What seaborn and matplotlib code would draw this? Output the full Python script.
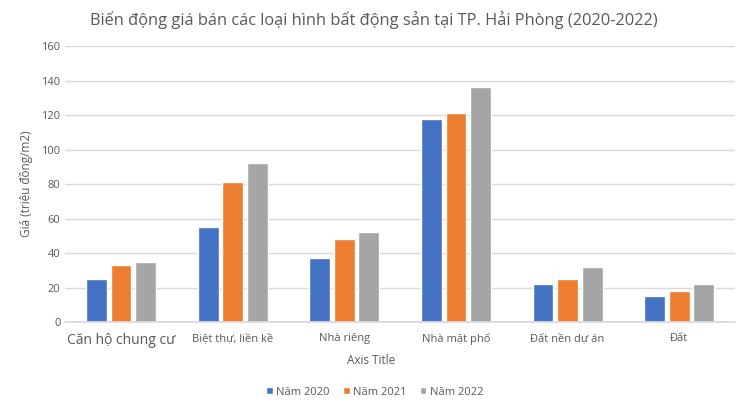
import pandas as pd
import matplotlib.pyplot as plt
import seaborn as sns

categories = ["Căn hộ chung cư", "Biệt thự, liền kề", "Nhà riêng",
              "Nhà mặt phố", "Đất nền dự án", "Đất"]
years = ["Năm 2020", "Năm 2021", "Năm 2022"]
values_2020 = [25, 55, 37, 118, 22, 15]
values_2021 = [33, 81, 48, 121, 25, 18]
values_2022 = [35, 92, 52, 136, 32, 22]
yticks = [0, 20, 40, 60, 80, 100, 120, 140, 160]
colors = ["#4472C4", "#ED7D31", "#A5A5A5"]

df = pd.DataFrame({
    "category": categories * 3,
    "year": [y for y in years for _ in categories],
    "value": values_2020 + values_2021 + values_2022,
})

sns.set_theme(style="white")
plt.rcParams["font.family"] = ["Open Sans", "DejaVu Sans"]

fig = plt.figure(figsize=(7.5, 4.15), dpi=100)
ax = fig.add_axes([0.087, 0.224, 0.893, 0.665])

sns.barplot(data=df, x="category", y="value", hue="year", order=categories,
            hue_order=years, palette=colors, width=0.66, gap=0.15,
            saturation=1, errorbar=None, ax=ax, zorder=2)

ax.set_ylim(0, 160)
ax.set_yticks(yticks)
ax.set_xlim(-0.5, len(categories) - 0.5)
ax.grid(axis="y", color="#D9D9D9", linewidth=1, zorder=0)
ax.set_axisbelow(True)
for side in ["top", "right", "left"]:
    ax.spines[side].set_visible(False)
ax.spines["bottom"].set_color("#D9D9D9")
ax.tick_params(axis="both", length=0, colors="#595959", labelsize=8)
ax.tick_params(axis="x", pad=8)
ax.get_xticklabels()[0].set_fontsize(10)

ax.set_xlabel("Axis Title", fontsize=8.5, color="#595959", labelpad=4)
ax.xaxis.label.set_x(0.457)
ax.set_ylabel("Giá (triệu đồng/m2)", fontsize=8.5, color="#595959", labelpad=6)
ax.set_title("Biến động giá bán các loại hình bất động sản tại TP. Hải Phòng (2020-2022)",
             fontsize=11.8, color="#595959", pad=15, x=0.461)

ax.legend(loc="center", bbox_to_anchor=(0.462, -0.254), ncol=3, frameon=False,
          fontsize=8, handlelength=0.6, handleheight=0.6, handletextpad=0.3,
          columnspacing=1.2, labelcolor="#595959")

fig.savefig("out.png", dpi=100)
